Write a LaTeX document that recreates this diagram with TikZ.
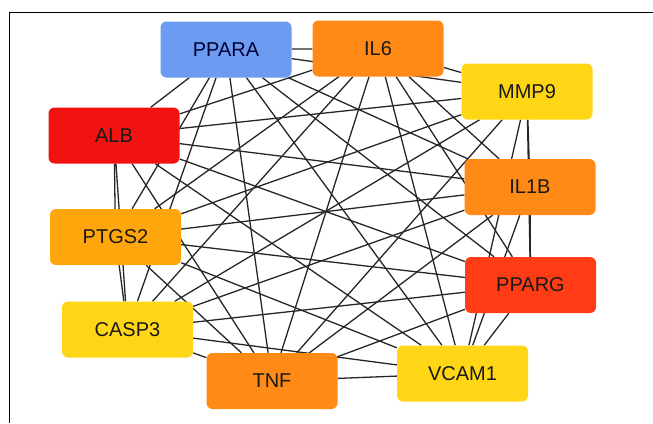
\documentclass[tikz,border=0pt]{standalone}
\usepackage{fontspec}
\setmainfont{Liberation Sans}
\usepackage{tikz}
\usetikzlibrary{backgrounds}
\definecolor{hubBlue}{RGB}{108,156,242}
\definecolor{hubOrange}{RGB}{255,138,22}
\definecolor{hubAmber}{RGB}{255,166,12}
\definecolor{hubYellow}{RGB}{255,214,22}
\definecolor{hubRed}{RGB}{242,18,18}
\definecolor{hubVermil}{RGB}{255,60,22}
\newcommand{\geneFont}[0]{\fontsize{20}{22}\selectfont}

\begin{document}
\begin{tikzpicture}[x=1pt, y=-1pt]
  \tikzset{gene/.style={rectangle, rounded corners=6pt, draw=none,
      minimum width=131pt, minimum height=56pt, inner sep=0pt,
      text=black!90, font=\geneFont}}
  \tikzset{link/.style={draw=black!85, line width=1.3pt}}
  \useasboundingbox (0,0) rectangle (653,423);
  \draw[black, line width=1pt] (9,423) -- (9,12) -- (653,12);
  \node[gene, fill=hubBlue, text=blue!20!black] (PPARA) at (226,49.5) {PPARA};
  \node[gene, fill=hubOrange] (IL6) at (378,48.5) {IL6};
  \node[gene, fill=hubYellow] (MMP9) at (527,91.5) {MMP9};
  \node[gene, fill=hubRed] (ALB) at (114,135.5) {ALB};
  \node[gene, fill=hubOrange] (IL1B) at (530,187) {IL1B};
  \node[gene, fill=hubAmber] (PTGS2) at (115.5,237) {PTGS2};
  \node[gene, fill=hubVermil] (PPARG) at (530.5,285) {PPARG};
  \node[gene, fill=hubYellow] (CASP3) at (127.5,329.5) {CASP3};
  \node[gene, fill=hubOrange] (TNF) at (272,381) {TNF};
  \node[gene, fill=hubYellow] (VCAM1) at (462.5,373.5) {VCAM1};
  \begin{scope}[on background layer]
  \path[link] (PPARA) -- (IL6) (PPARA) -- (MMP9) (PPARA) -- (ALB)
    (PPARA) -- (IL1B) (PPARA) -- (PTGS2) (PPARA) -- (PPARG)
    (PPARA) -- (CASP3) (PPARA) -- (TNF) (PPARA) -- (VCAM1);
  \path[link] (IL6) -- (MMP9) (IL6) -- (ALB) (IL6) -- (IL1B)
    (IL6) -- (PTGS2) (IL6) -- (PPARG) (IL6) -- (CASP3)
    (IL6) -- (TNF) (IL6) -- (VCAM1);
  \path[link] (MMP9) -- (ALB) (MMP9) -- (IL1B) (MMP9) -- (PTGS2)
    (MMP9) -- (PPARG) (MMP9) -- (CASP3) (MMP9) -- (TNF) (MMP9) -- (VCAM1);
  \path[link] (ALB) -- (IL1B) (ALB) -- (PTGS2) (ALB) -- (PPARG)
    (ALB) -- (CASP3) (ALB) -- (TNF) (ALB) -- (VCAM1);
  \path[link] (IL1B) -- (PTGS2) (IL1B) -- (PPARG) (IL1B) -- (CASP3)
    (IL1B) -- (TNF) (IL1B) -- (VCAM1);
  \path[link] (PTGS2) -- (PPARG) (PTGS2) -- (CASP3) (PTGS2) -- (TNF)
    (PTGS2) -- (VCAM1);
  \path[link] (PPARG) -- (CASP3) (PPARG) -- (TNF) (PPARG) -- (VCAM1);
  \path[link] (CASP3) -- (TNF) (CASP3) -- (VCAM1);
  \path[link] (TNF) -- (VCAM1);
  \end{scope}
\end{tikzpicture}
\end{document}
